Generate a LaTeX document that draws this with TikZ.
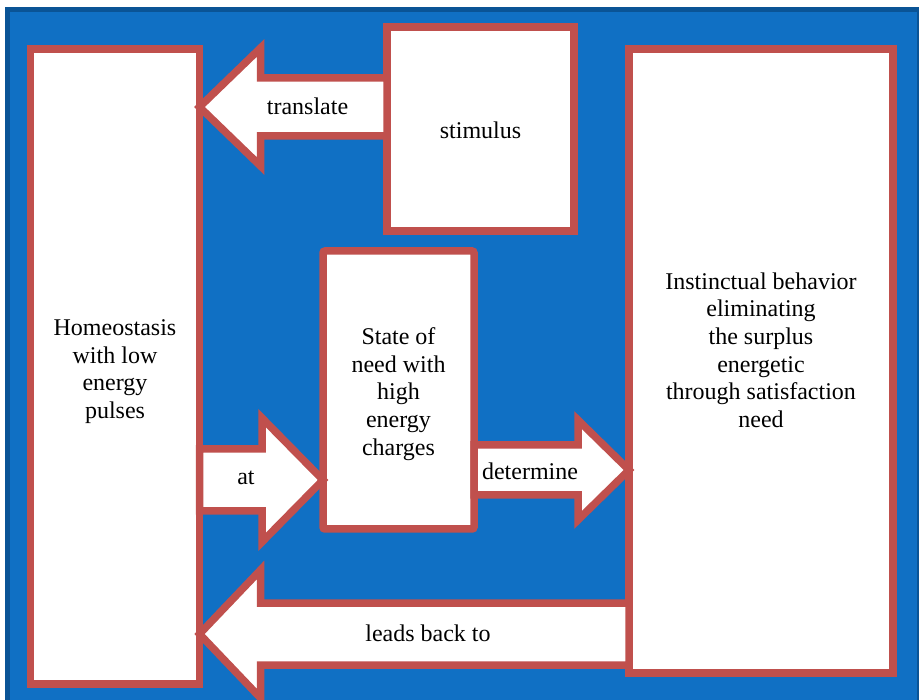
\documentclass[tikz,border=0pt]{standalone}
\usepackage{fontspec}
\setmainfont{Liberation Serif}
\newfontfamily\timesfont{Liberation Serif}
\usetikzlibrary{calc}
\definecolor{bgblue}{RGB}{16,112,196}
\definecolor{bgdark}{RGB}{10,84,150}
\definecolor{boxred}{RGB}{192,80,77}
\begin{document}
\begin{tikzpicture}[x=1pt,y=-1pt,
  txt/.style={font=\timesfont\fontsize{24}{27.6}\selectfont},
  box/.style={txt,draw=boxred,fill=white,line width=7.5pt,outer sep=0pt,inner sep=0pt,align=center},
  fat/.style={draw=boxred,fill=white,line width=7.5pt,line join=miter},
  lbl/.style={txt,inner sep=0pt,align=center}]
\useasboundingbox (0,0) rectangle (919,700);
\fill[white] (0,0) rectangle (919,700);
\draw[bgdark,fill=bgblue,line width=5pt] (7.5,9.5) rectangle (919.5,703);

\node[box,minimum width=169pt,minimum height=635pt,
  label={[lbl,yshift=-5pt]center:{Homeostasis\\with low\\energy\\pulses}}] (homeo) at (115,366.5) {};
\node[box,minimum width=187pt,minimum height=204pt,
  label={[lbl,yshift=-1pt]center:stimulus}] (stim) at (480.5,129) {};
\node[box,minimum width=151pt,minimum height=278pt,rounded corners=2pt,
  label={[lbl,yshift=-4pt]center:{State of\\need with\\high\\energy\\charges}}] (need) at (398.5,390) {};
\node[box,minimum width=264pt,minimum height=624pt,
  label={[lbl,yshift=11pt]center:{Instinctual behavior\\eliminating\\the surplus\\energetic\\through satisfaction\\need}}] (instinct) at (761,361) {};

% translate
\coordinate (t1) at (homeo.east |- 0,107);
\draw[fat] (t1) -- ++(61,-59) -- ++(0,30) -- ($(t1 -| stim.west)+(0,-29)$) -- ($(t1 -| stim.west)+(0,29)$) -- ($(t1)+(61,29)$) -- ++(0,30) -- cycle;
% at
\coordinate (t2) at (need.west |- 0,480);
\draw[fat] (t2) -- ++(-61,-62) -- ++(0,31) -- ($(t2 -| homeo.east)+(0,-31)$) -- ($(t2 -| homeo.east)+(0,31)$) -- ($(t2)+(-61,31)$) -- ++(0,31) -- cycle;
% determine
\coordinate (t3) at (instinct.west |- 0,470);
\draw[fat] (t3) -- ++(-51,-50) -- ++(0,25) -- ($(t3 -| need.east)+(0,-25)$) -- ($(t3 -| need.east)+(0,25)$) -- ($(t3)+(-51,25)$) -- ++(0,25) -- cycle;
% leads back
\coordinate (t4) at (homeo.east |- 0,634);
\draw[fat] (t4) -- ++(61,-64) -- ++(0,33) -- ($(t4 -| instinct.west)+(0,-31)$) -- ($(t4 -| instinct.west)+(0,31)$) -- ($(t4)+(61,31)$) -- ++(0,33) -- cycle;

\node[lbl] (ltrans) at (307.5,106) {translate};
\node[lbl] (lat) at (246,478) {at};
\node[lbl] (ldet) at (530,471) {determine};
\node[lbl] (llead) at (428,633) {leads back to};
\end{tikzpicture}
\end{document}
